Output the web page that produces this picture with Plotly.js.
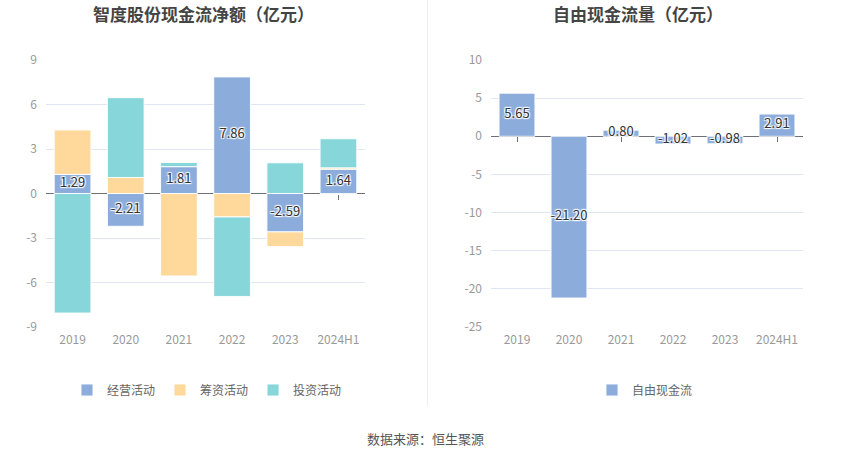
<!DOCTYPE html>
<html>
<head>
<meta charset="utf-8">
<script src="https://cdn.plot.ly/plotly-3.0.1.min.js"></script>
<style>html,body{margin:0;padding:0;background:#fff;}#chart{width:850px;height:459px;}</style>
</head>
<body>
<div id="chart"></div>
<script>
const categories = ['2019', '2020', '2021', '2022', '2023', '2024H1'];
const operating = [1.29, -2.21, 1.81, 7.86, -2.59, 1.64];
const financing = [2.99, 1.08, -5.56, -1.58, -0.99, 0.09];
const investing = [-8.06, 5.38, 0.28, -5.36, 2.07, 1.96];
const freeCashFlow = [5.65, -21.20, 0.80, -1.02, -0.98, 2.91];
const leftYTicks = [-9, -6, -3, 0, 3, 6, 9];
const rightYTicks = [-25, -20, -15, -10, -5, 0, 5, 10];
const leftRange = [-9, 9];
const rightRange = [-25, 10];

const W = 850, H = 459;
const FONT = '"Noto Sans CJK SC", "Noto Sans", sans-serif';
const yDom = [1 - 327 / H, 1 - 60 / H];
const catRange = [-0.5, categories.length - 0.5];
const zeroFrac = (r) => yDom[0] + (0 - r[0]) / (r[1] - r[0]) * (yDom[1] - yDom[0]);
const halo = '1px 1px 1px #fff, -1px -1px 1px #fff, 1px -1px 1px #fff, -1px 1px 1px #fff';
const lbl = (v) => v.toFixed(2);
const barLine = {color: 'rgba(255,255,255,0.9)', width: 1};

const traces = [
  {type: 'bar', name: '经营活动', x: categories, y: operating, xaxis: 'x', yaxis: 'y',
   marker: {color: '#8CADDB', line: barLine}, legend: 'legend', hoverinfo: 'skip'},
  {type: 'bar', name: '筹资活动', x: categories, y: financing, xaxis: 'x', yaxis: 'y',
   marker: {color: '#FFD99B', line: barLine}, legend: 'legend', hoverinfo: 'skip'},
  {type: 'bar', name: '投资活动', x: categories, y: investing, xaxis: 'x', yaxis: 'y',
   marker: {color: '#87D6D9', line: barLine}, legend: 'legend', hoverinfo: 'skip'},
  {type: 'scatter', mode: 'text', x: categories, y: operating.map(v => v / 2),
   text: operating.map(lbl), xaxis: 'x3', yaxis: 'y', showlegend: false, hoverinfo: 'skip',
   textfont: {family: FONT, size: 13, color: '#333', shadow: halo}},
  {type: 'bar', name: '自由现金流', x: categories, y: freeCashFlow, xaxis: 'x2', yaxis: 'y2',
   marker: {color: '#8CADDB', line: barLine}, legend: 'legend2', hoverinfo: 'skip'},
  {type: 'scatter', mode: 'text', x: categories, y: freeCashFlow.map(v => v / 2),
   text: freeCashFlow.map(lbl), xaxis: 'x4', yaxis: 'y2', showlegend: false, hoverinfo: 'skip',
   textfont: {family: FONT, size: 13, color: '#333', shadow: halo}}
];

const tickFont = {family: FONT, size: 12, color: '#999'};
const barAxis = (dom, r) => ({
  domain: dom, anchor: 'free', position: zeroFrac(r), type: 'category', range: catRange,
  categoryorder: 'array', categoryarray: categories,
  showticklabels: false, ticks: 'outside', ticklen: 5, tickcolor: '#6E7079',
  showgrid: false, zeroline: false, showline: false, layer: 'below traces', fixedrange: true
});
const labelAxis = (over, ya) => ({
  overlaying: over, anchor: ya, type: 'category', range: catRange,
  categoryorder: 'array', categoryarray: categories,
  showticklabels: true, ticks: '',
  showgrid: false, zeroline: false, showline: false, tickfont: tickFont, fixedrange: true,
  ticklabelstandoff: 4
});
const valAxis = (anchor, r, tv) => ({
  domain: yDom, anchor: anchor, range: r, tickvals: tv, ticktext: tv.map(String),
  showgrid: true, gridcolor: '#E0E6F1', gridwidth: 1,
  zeroline: true, zerolinecolor: '#6E7079', zerolinewidth: 1,
  showline: false, ticks: '', tickfont: tickFont, ticklabelstandoff: 8, fixedrange: true
});

const layout = {
  width: W, height: H,
  margin: {l: 0, r: 0, t: 0, b: 0},
  paper_bgcolor: '#fff', plot_bgcolor: 'rgba(0,0,0,0)',
  font: {family: FONT, color: '#333'},
  barmode: 'relative', bargap: 0.31,
  showlegend: true,
  xaxis: barAxis([46 / W, 365 / W], leftRange),
  xaxis3: labelAxis('x', 'y'),
  yaxis: valAxis('x', leftRange, leftYTicks),
  xaxis2: barAxis([491 / W, 803 / W], rightRange),
  xaxis4: labelAxis('x2', 'y2'),
  yaxis2: valAxis('x2', rightRange, rightYTicks),
  legend: {orientation: 'h', x: 207 / W, xanchor: 'center', y: 1 - 390 / H, yanchor: 'middle',
           font: {family: FONT, size: 12, color: '#666'}, itemclick: false, itemwidth: 30},
  legend2: {orientation: 'h', x: 645 / W, xanchor: 'center', y: 1 - 390 / H, yanchor: 'middle',
            font: {family: FONT, size: 12, color: '#666'}, itemclick: false, itemwidth: 30},
  annotations: [
    {text: '智度股份现金流净额（亿元）', xref: 'paper', yref: 'paper', x: 203 / W, y: 1 - 14 / H,
     xanchor: 'center', yanchor: 'middle', showarrow: false,
     font: {family: FONT, size: 17, color: '#444', weight: 'bold'}},
    {text: '自由现金流量（亿元）', xref: 'paper', yref: 'paper', x: 638 / W, y: 1 - 14 / H,
     xanchor: 'center', yanchor: 'middle', showarrow: false,
     font: {family: FONT, size: 17, color: '#444', weight: 'bold'}},
    {text: '数据来源：恒生聚源', xref: 'paper', yref: 'paper', x: 425 / W, y: 1 - 438 / H,
     xanchor: 'center', yanchor: 'middle', showarrow: false,
     font: {family: FONT, size: 13, color: '#555'}}
  ],
  shapes: [
    {type: 'line', xref: 'paper', yref: 'paper', x0: 427.5 / W, x1: 427.5 / W, y0: 1 - 406 / H, y1: 1,
     line: {color: '#EEEEEE', width: 1}}
  ]
};

Plotly.newPlot('chart', traces, layout, {displayModeBar: false, staticPlot: true});
</script>
</body>
</html>
